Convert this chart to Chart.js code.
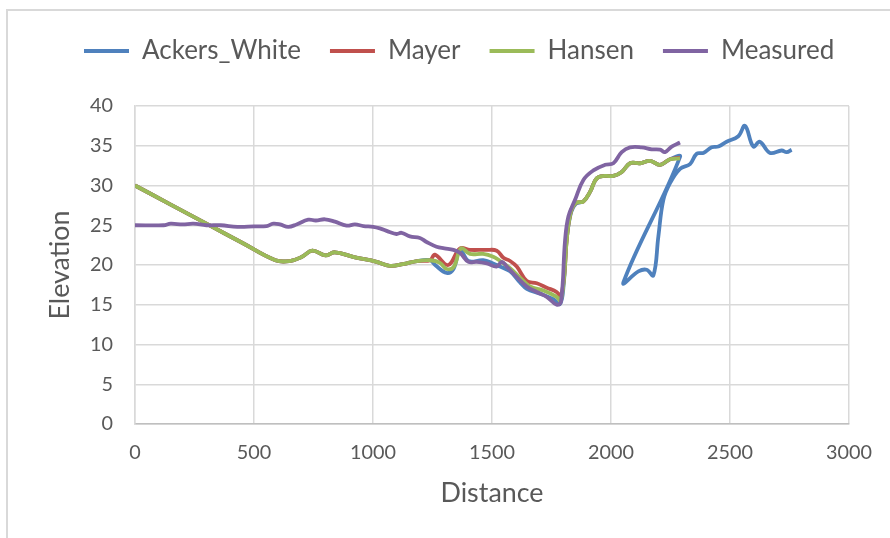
<!DOCTYPE html>
<html>
<head>
<meta charset="utf-8">
<script src="https://cdn.jsdelivr.net/npm/chart.js@4.4.1/dist/chart.umd.min.js"></script>
<style>
  html, body { margin: 0; padding: 0; background: #ffffff; overflow: hidden; }
  #frame { position: absolute; left: 6px; top: 9px; width: 1000px; height: 1000px;
           border-left: 2px solid #d9d9d9; border-top: 2px solid #d9d9d9; }
  #c { position: absolute; left: 0; top: 0; }
</style>
</head>
<body>
<div id="frame"></div>
<canvas id="c" width="890" height="538"></canvas>
<script>
// ---------------- DATA ----------------
const seriesNames = ['Ackers_White', 'Mayer', 'Hansen', 'Measured'];
const xTickValues = [0, 500, 1000, 1500, 2000, 2500, 3000];
const yTickValues = [0, 5, 10, 15, 20, 25, 30, 35, 40];

// upstream reach shared by the three model runs (identical there)
const modelUpstreamDistance  = [0, 150, 300, 450, 590, 650, 700, 745, 800, 840, 920, 1015, 1070, 1125, 1185, 1240];
const modelUpstreamElevation = [30.0, 27.6, 25.2, 22.8, 20.6, 20.5, 21.0, 21.8, 21.2, 21.6, 21.0, 20.4, 19.9, 20.1, 20.5, 20.6];

const ackersDistance  = [1261, 1310, 1338, 1366, 1401, 1463, 1505, 1534, 1576, 1618, 1646, 1702, 1758, 1786, 1801, 1814, 1832, 1852, 1884, 1912, 1940, 1975, 2010, 2045, 2080, 2122, 2164, 2206, 2248, 2290,
                         2052, 2115, 2150, 2178, 2199, 2220, 2248, 2290, 2332, 2360, 2388, 2423, 2451, 2486, 2535, 2563, 2598, 2625, 2668, 2717, 2738, 2759];
const ackersElevation = [20.0, 19.0, 19.5, 21.9, 20.5, 20.6, 20.2, 19.8, 19.2, 17.8, 17.0, 16.4, 15.7, 15.1, 17.5, 23.3, 26.6, 27.7, 28.0, 29.2, 30.9, 31.2, 31.2, 31.7, 32.8, 32.8, 33.1, 32.6, 33.3, 33.6,
                         17.8, 19.2, 19.4, 18.7, 23.6, 28.2, 30.3, 32.1, 32.7, 34.0, 34.1, 34.8, 34.9, 35.5, 36.2, 37.5, 34.9, 35.5, 34.1, 34.4, 34.2, 34.5];

const mayerDistance  = [1260, 1316, 1366, 1407, 1478, 1520, 1548, 1576, 1604, 1646, 1688, 1730, 1772, 1788, 1803, 1815, 1832, 1852, 1884, 1912, 1940, 1975, 2010, 2045, 2080, 2122, 2164, 2206, 2248, 2290];
const mayerElevation = [21.3, 20.0, 22.1, 21.9, 21.9, 21.8, 20.9, 20.5, 19.8, 18.0, 17.7, 17.15, 16.6, 16.1, 18.5, 23.5, 26.8, 27.8, 28.0, 29.2, 30.9, 31.2, 31.2, 31.7, 32.8, 32.8, 33.1, 32.6, 33.3, 33.5];

const hansenDistance  = [1280, 1310, 1340, 1370, 1407, 1463, 1505, 1534, 1576, 1618, 1660, 1716, 1772, 1788, 1803, 1815, 1832, 1852, 1884, 1912, 1940, 1975, 2010, 2045, 2080, 2122, 2164, 2206, 2248, 2290];
const hansenElevation = [20.3, 19.5, 19.8, 22.1, 21.4, 21.4, 21.05, 20.5, 19.6, 18.4, 17.3, 16.8, 16.0, 15.5, 18.5, 23.5, 26.8, 27.8, 28.0, 29.2, 30.9, 31.2, 31.2, 31.7, 32.8, 32.8, 33.1, 32.6, 33.3, 33.4];

const measuredDistance  = [0, 120, 150, 200, 245, 300, 360, 430, 500, 553, 581, 610, 644, 679, 728, 760, 798, 840, 889, 924, 960, 1001, 1029, 1065, 1099, 1120, 1155, 1197, 1225, 1267, 1300, 1338, 1366, 1401, 1436, 1478, 1520, 1541, 1562, 1604, 1646, 1688, 1730, 1772, 1790, 1807, 1821, 1849, 1884, 1926, 1975, 2010, 2045, 2080, 2129, 2171, 2206, 2227, 2255, 2290];
const measuredElevation = [25.0, 25.0, 25.2, 25.1, 25.2, 25.0, 25.0, 24.8, 24.85, 24.9, 25.2, 25.1, 24.8, 25.1, 25.7, 25.6, 25.75, 25.45, 24.95, 25.1, 24.9, 24.8, 24.6, 24.2, 23.9, 24.05, 23.6, 23.4, 22.9, 22.3, 22.1, 21.9, 21.5, 20.4, 20.4, 20.2, 19.8, 20.4, 19.8, 18.5, 17.3, 16.6, 16.0, 15.0, 15.4, 23.1, 26.1, 28.2, 30.7, 31.9, 32.6, 32.8, 34.2, 34.8, 34.8, 34.55, 34.5, 34.2, 34.9, 35.4];

// ---------------- HELPERS ----------------
function toPoints(xs, ys) { return xs.map((x, i) => ({ x: x, y: ys[i] })); }
function withUpstream(xs, ys) {
  return toPoints(modelUpstreamDistance.concat(xs), modelUpstreamElevation.concat(ys));
}

const FAMILY = 'Lato';
const TEXT = '#595959';
const mctx = document.createElement('canvas').getContext('2d');
function textW(t, size) { mctx.font = size + 'px ' + FAMILY; return mctx.measureText(t).width; }
function fitSize(t, target) { return 100 * target / textW(t, 100); }

const legendSize = fitSize('Ackers_White', 159);
const tickSize = fitSize('3000', 46);
const titleSize = fitSize('Distance', 103);

// legend geometry
const legPad = 29;
const markerToText = 58;
const boxW = markerToText - legendSize / 2;
let itemSum = 0;
seriesNames.forEach(n => { itemSum += markerToText + textW(n, legendSize); });
const padRight = 0;
const padLeft = Math.max(0, 168 + itemSum + 3 * legPad - (890 - padRight));
const padTop = 51 - legPad - legendSize / 2;

const PLOT_LEFT = 135, PLOT_RIGHT = 849, PLOT_TOP = 106, PLOT_BOTTOM = 424;

const colors = ['#4F81BD', '#C0504D', '#9BBB59', '#8064A2'];

const layoutPlugin = {
  id: 'layoutFix',
  beforeUpdate(chart) {
    const lg = chart.legend;
    if (lg && !lg._patched) {
      const orig = lg.fit;
      lg.fit = function () { orig.call(this); this.height = PLOT_TOP - padTop; };
      lg._patched = true;
    }
  }
};

const common = { showLine: true, pointRadius: 0, pointHoverRadius: 0, borderWidth: 3.8, tension: 0.4, fill: false };

new Chart(document.getElementById('c'), {
  type: 'scatter',
  data: {
    datasets: [
      Object.assign({ label: seriesNames[0], data: withUpstream(ackersDistance, ackersElevation), borderColor: colors[0], backgroundColor: colors[0], order: 4 }, common),
      Object.assign({ label: seriesNames[1], data: withUpstream(mayerDistance, mayerElevation), borderColor: colors[1], backgroundColor: colors[1], order: 3 }, common),
      Object.assign({ label: seriesNames[2], data: withUpstream(hansenDistance, hansenElevation), borderColor: colors[2], backgroundColor: colors[2], order: 2 }, common),
      Object.assign({ label: seriesNames[3], data: toPoints(measuredDistance, measuredElevation), borderColor: colors[3], backgroundColor: colors[3], order: 1 }, common)
    ]
  },
  plugins: [layoutPlugin],
  options: {
    responsive: false,
    animation: false,
    events: [],
    layout: { padding: { left: padLeft, top: padTop, right: padRight, bottom: 0 } },
    plugins: {
      tooltip: { enabled: false },
      legend: {
        position: 'top',
        align: 'center',
        labels: {
          usePointStyle: true,
          pointStyle: 'line',
          pointStyleWidth: boxW,
          padding: legPad,
          color: TEXT,
          font: { family: FAMILY, size: legendSize },
          sort: (a, b) => a.datasetIndex - b.datasetIndex
        }
      }
    },
    scales: {
      x: {
        type: 'linear',
        min: 0, max: 3000,
        afterBuildTicks: (s) => { s.ticks = xTickValues.map(v => ({ value: v })); },
        afterFit: (s) => { s.height = 538 - PLOT_BOTTOM; s.paddingRight = 890 - PLOT_RIGHT; },
        grid: { color: '#d9d9d9', lineWidth: 1.5, drawTicks: false },
        border: { color: '#bfbfbf', width: 1.5 },
        ticks: { color: TEXT, font: { family: FAMILY, size: tickSize }, padding: 29 - 0.6 * tickSize,
                 maxRotation: 0, autoSkip: false, callback: (v) => String(v) },
        title: { display: true, text: 'Distance', color: TEXT, font: { family: FAMILY, size: titleSize },
                 padding: { top: 0, bottom: 45 - 0.6 * titleSize } }
      },
      y: {
        type: 'linear',
        min: 0, max: 40,
        afterBuildTicks: (s) => { s.ticks = yTickValues.map(v => ({ value: v })); },
        afterFit: (s) => { s.width = PLOT_LEFT - padLeft; },
        grid: { color: '#d9d9d9', lineWidth: 1.5, drawTicks: false },
        border: { color: '#d9d9d9', width: 1.5 },
        ticks: { color: TEXT, font: { family: FAMILY, size: tickSize }, padding: 22, callback: (v) => String(v) },
        title: { display: true, text: 'Elevation', color: TEXT, font: { family: FAMILY, size: titleSize },
                 padding: { top: 60 - padLeft - 0.6 * titleSize, bottom: 0 } }
      }
    }
  }
});
</script>
</body>
</html>
